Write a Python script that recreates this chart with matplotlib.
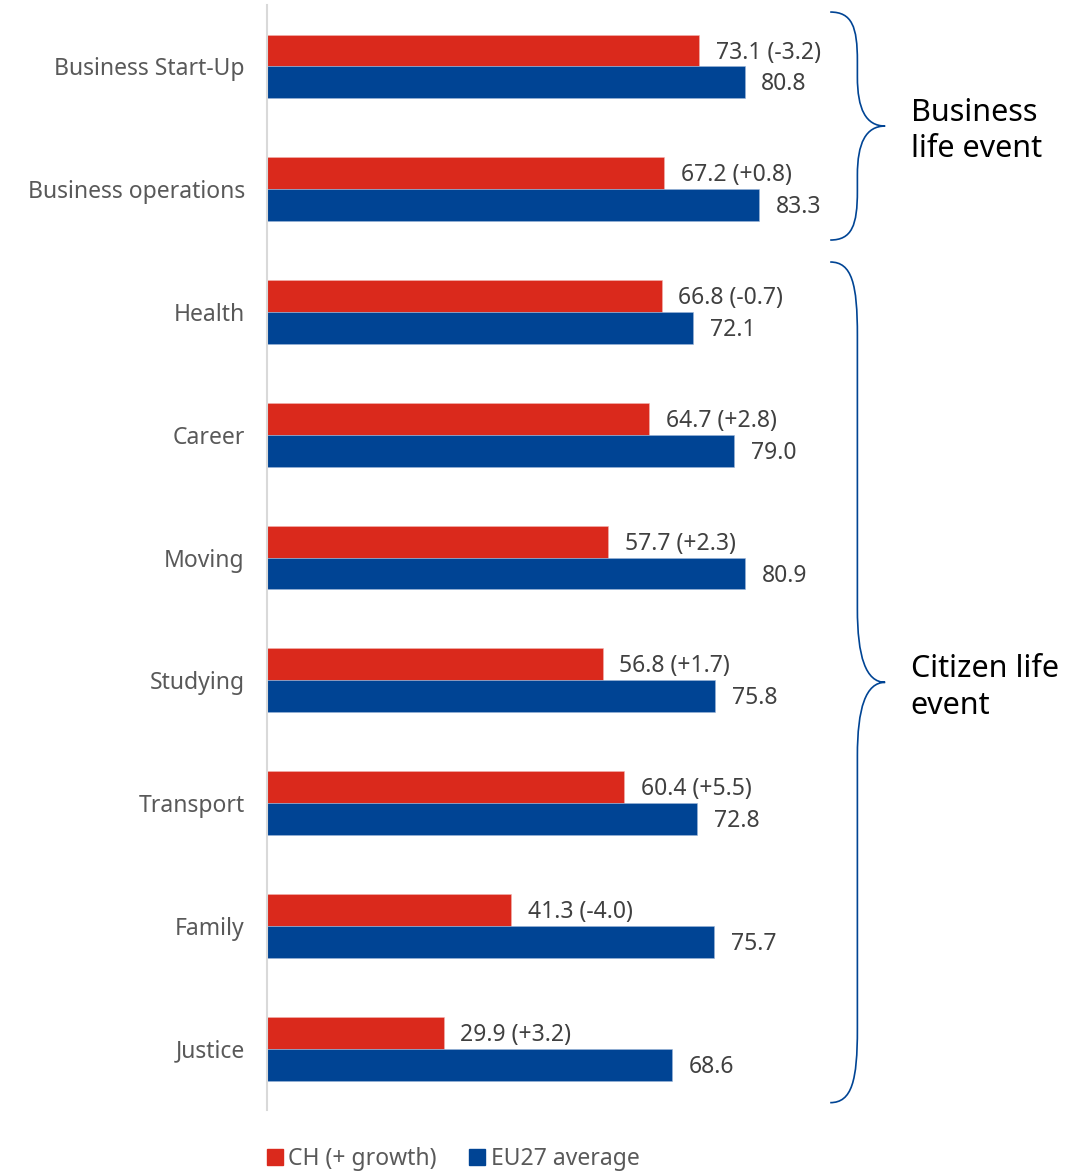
import matplotlib
matplotlib.use("Agg")
import matplotlib.pyplot as plt
from matplotlib.path import Path
from matplotlib.patches import PathPatch, Patch
import numpy as np

categories = ["Business Start-Up", "Business operations", "Health", "Career",
              "Moving", "Studying", "Transport", "Family", "Justice"]
ch_score = [73.1, 67.2, 66.8, 64.7, 57.7, 56.8, 60.4, 41.3, 29.9]
ch_growth = [-3.2, 0.8, -0.7, 2.8, 2.3, 1.7, 5.5, -4.0, 3.2]
eu_score = [80.8, 83.3, 72.1, 79.0, 80.9, 75.8, 72.8, 75.7, 68.6]

# groups shown with braces: (label, first index, last index)
groups = [("Business\nlife event", 0, 1), ("Citizen life\nevent", 2, 8)]

RED = "#DA291C"
BLUE = "#004494"

plt.rcParams['font.family'] = ['Noto Sans', 'DejaVu Sans']

fig = plt.figure(figsize=(10.71, 11.74), dpi=100)
ax = fig.add_axes([0.2493, 0.0545, 0.5518, 0.9412])

y = np.arange(len(categories))
h = 0.26
ax.barh(y - h / 2, ch_score, height=h, color=RED, edgecolor="#f3b5b0", linewidth=0.4)
ax.barh(y + h / 2, eu_score, height=h, color=BLUE, edgecolor="#9db6d8", linewidth=0.4)

for i in range(len(categories)):
    ax.annotate("%.1f (%+.1f)" % (ch_score[i], ch_growth[i]), (ch_score[i], y[i] - h / 2),
                xytext=(12, -1.5), textcoords="offset points", va="center", ha="left",
                fontsize=16.5, color="#404040")
    ax.annotate("%.1f" % eu_score[i], (eu_score[i], y[i] + h / 2),
                xytext=(12, -1.5), textcoords="offset points", va="center", ha="left",
                fontsize=16.5, color="#404040")

ax.set_xlim(0, 100)
ax.set_ylim(len(categories) - 0.5, -0.5)
ax.set_yticks(y)
ax.set_yticklabels(categories, fontsize=16.5, color="#595959")
ax.tick_params(axis="y", length=0, pad=16)
ax.set_xticks([])
for side in ["top", "right", "bottom"]:
    ax.spines[side].set_visible(False)
ax.spines["left"].set_color("#D9D9D9")
ax.spines["left"].set_linewidth(1.5)


def brace(ax, y0, y1, x0, x1, xt, d):
    ym = (y0 + y1) / 2
    verts = [
        (x0, y0), (x0 + 0.8 * (x1 - x0), y0), (x1, y0 + 0.3 * d), (x1, y0 + d),
        (x1, ym - d),
        (x1, ym - 0.35 * d), (x1 + 0.3 * (xt - x1), ym), (xt, ym),
        (x1 + 0.3 * (xt - x1), ym), (x1, ym + 0.35 * d), (x1, ym + d),
        (x1, y1 - d),
        (x1, y1 - 0.3 * d), (x0 + 0.8 * (x1 - x0), y1), (x0, y1),
    ]
    codes = [Path.MOVETO, Path.CURVE4, Path.CURVE4, Path.CURVE4,
             Path.LINETO,
             Path.CURVE4, Path.CURVE4, Path.CURVE4,
             Path.CURVE4, Path.CURVE4, Path.CURVE4,
             Path.LINETO,
             Path.CURVE4, Path.CURVE4, Path.CURVE4]
    ax.add_patch(PathPatch(Path(verts, codes), facecolor="none", edgecolor=BLUE,
                           linewidth=1.2, clip_on=False))
    return ym


for label, a, b in groups:
    top = a - 0.5 + (0.057 if a == 0 else 0.093)
    bot = b + 0.5 - (0.086 if a == 0 else 0.06)
    d = 0.4 if b - a < 2 else 0.6
    ym = brace(ax, top, bot, 95.3, 99.9, 104.6, d)
    ax.text(108.9, ym + 0.04, label, fontsize=22, color="black", va="center", ha="left",
            linespacing=1.3, clip_on=False)

handles = [Patch(color=RED, label="CH (+ growth)"), Patch(color=BLUE, label="EU27 average")]
fig.legend(handles=handles, loc="center", bbox_to_anchor=(0.423, 0.0125), ncol=2,
           frameon=False, fontsize=16.5, handlelength=0.7, handleheight=0.7,
           handletextpad=0.25, columnspacing=1.4, labelcolor="#595959")

fig.savefig("out.png", dpi=100)
